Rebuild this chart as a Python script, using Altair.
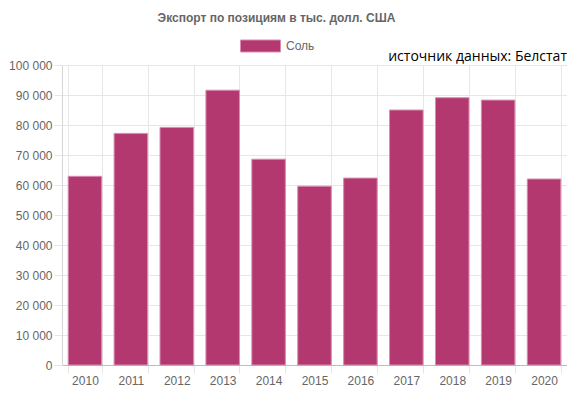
import altair as alt
import pandas as pd

years = ["2010", "2011", "2012", "2013", "2014", "2015", "2016", "2017", "2018", "2019", "2020"]
values = [62900, 77200, 79200, 91600, 68600, 59600, 62300, 85000, 89100, 88300, 62000]
series_name = "Соль"
title_text = "Экспорт по позициям в тыс. долл. США"
source_text = "источник данных: Белстат"
y_ticks = [0, 10000, 20000, 30000, 40000, 50000, 60000, 70000, 80000, 90000, 100000]

df = pd.DataFrame({"year": years, "value": values, "series": [series_name] * len(years)})

FILL = "#b3386f"
EDGE = "#d98cb0"
GRID = "#e6e6e6"
FONT = "Liberation Sans"

bars = alt.Chart(df).mark_bar(stroke=EDGE, strokeWidth=1).encode(
    x=alt.X(
        "year:N", sort=years, title=None,
        scale=alt.Scale(paddingInner=0.27, paddingOuter=0.135),
        axis=alt.Axis(labelAngle=0, tickBand="extent", grid=True, gridColor=GRID,
                      tickColor=GRID, tickSize=8, labelPadding=2, domainColor="#bdbdbd",
                      labelColor="#666", labelFont=FONT, labelFontSize=12),
    ),
    y=alt.Y(
        "value:Q", title=None,
        scale=alt.Scale(domain=[0, 100000], nice=False),
        axis=alt.Axis(values=y_ticks,
                      labelExpr="replace(format(datum.value, ','), ',', ' ')",
                      grid=True, gridColor=GRID, tickColor=GRID, tickSize=8,
                      labelPadding=2, domainColor="#d6d6d6",
                      labelColor="#666", labelFont=FONT, labelFontSize=12),
    ),
    color=alt.Color(
        "series:N", scale=alt.Scale(range=[FILL]),
        legend=alt.Legend(title=None, orient="none", legendX=178, legendY=-39.5,
                          symbolType="M-1,-0.3H1V0.3H-1Z", symbolSize=1600,
                          symbolStrokeColor=EDGE, symbolStrokeWidth=1, symbolOpacity=1,
                          labelOffset=5, labelFont=FONT, labelFontSize=12,
                          labelColor="#666", padding=0),
    ),
)

src = alt.Chart(pd.DataFrame({"t": [source_text]})).mark_text(
    align="right", baseline="alphabetic", font="Open Sans", fontSize=14, color="#000"
).encode(text="t:N", x=alt.value(505), y=alt.value(-4))

chart = alt.layer(bars, src).properties(
    width=505, height=300,
    padding={"left": 54, "top": 57, "right": 0, "bottom": 22},
    autosize=alt.AutoSizeParams(type="none"),
    title=alt.Title(title_text, font=FONT, fontSize=12, fontWeight="bold", color="#666",
                    anchor="middle", frame="group", dx=-38, offset=-8, baseline="alphabetic"),
).configure_view(stroke=None)

chart.save("out.html", embed_options={"renderer": "svg", "actions": False})
